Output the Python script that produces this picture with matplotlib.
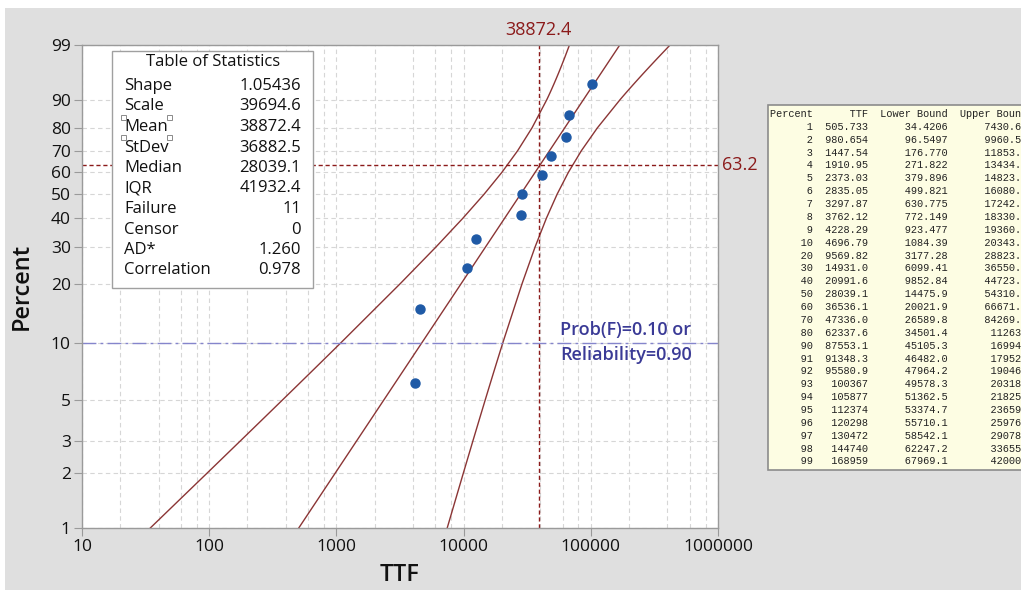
import numpy as np
import matplotlib
matplotlib.use("Agg")
import matplotlib.pyplot as plt
from matplotlib.patches import Rectangle
from matplotlib.ticker import LogLocator, NullFormatter, FixedLocator

plt.rcParams['font.family'] = ['Open Sans', 'DejaVu Sans']

# failure times and median-rank plotting positions
ttf_obs = [4150, 4570, 10570, 12450, 28100, 28800, 41300, 48900, 64200, 67000, 101600]
pct_obs = [6.1, 14.9, 23.7, 32.5, 41.2, 50.0, 58.8, 67.5, 76.3, 85.1, 93.9]

# percentile table (fit + 95% bounds)
percent = [1, 2, 3, 4, 5, 6, 7, 8, 9, 10, 20, 30, 40, 50, 60, 70, 80, 90,
           91, 92, 93, 94, 95, 96, 97, 98, 99]
ttf_fit = [505.733, 980.654, 1447.54, 1910.95, 2373.03, 2835.05, 3297.87, 3762.12, 4228.29,
           4696.79, 9569.82, 14931.0, 20991.6, 28039.1, 36536.1, 47336.0, 62337.6, 87553.1,
           91348.3, 95580.9, 100367, 105877, 112374, 120298, 130472, 144740, 168959]
lower = [34.4206, 96.5497, 176.770, 271.822, 379.896, 499.821, 630.775, 772.149, 923.477,
         1084.39, 3177.28, 6099.41, 9852.84, 14475.9, 20021.9, 26589.8, 34501.4, 45105.3,
         46482.0, 47964.2, 49578.3, 51362.5, 53374.7, 55710.1, 58542.1, 62247.2, 67969.1]
upper = [7430.61, 9960.50, 11853.7, 13434.3, 14823.2, 16080.7, 17242.2, 18330.1, 19360.0,
         20343.1, 28823.8, 36550.4, 44723.0, 54310.3, 66671.6, 84269.2, 112632, 169948,
         179521, 190469, 203185, 218252, 236590, 259766, 290783, 336556, 420000]

stat_names = ["Shape", "Scale", "Mean", "StDev", "Median", "IQR", "Failure", "Censor",
              "AD*", "Correlation"]
stat_vals = ["1.05436", "39694.6", "38872.4", "36882.5", "28039.1", "41932.4", "11", "0",
             "1.260", "0.978"]

y_ticks = [1, 2, 3, 5, 10, 20, 30, 40, 50, 60, 70, 80, 90, 99]
x_ticks = [10, 100, 1000, 10000, 100000, 1000000]
mean_ttf = 38872.4
char_life = 63.2
prob_f = 10

W, H = 1021, 590
fig = plt.figure(figsize=(W / 100, H / 100), dpi=100, facecolor='white')
fig.patches.append(Rectangle((5 / W, 0), 1, 1 - 8 / H, transform=fig.transFigure,
                             facecolor='#dfdfdf', edgecolor='none', zorder=-10))


def px(x, y):
    return x / W, 1 - y / H


def fwd(p):
    p = np.clip(np.asarray(p, dtype=float), 1e-6, 100 - 1e-6)
    return np.log(-np.log(1 - p / 100))


def inv(y):
    return 100 * (1 - np.exp(-np.exp(y)))


ax = fig.add_axes([82 / W, 1 - 528 / H, (718 - 82) / W, (528 - 45) / H])
ax.set_facecolor('white')
ax.set_xscale('log')
ax.set_yscale('function', functions=(fwd, inv))
ax.set_xlim(10, 1e6)
ax.set_ylim(1, 99)

ax.xaxis.set_major_locator(FixedLocator(x_ticks))
ax.set_xticklabels([str(v) for v in x_ticks])
ax.xaxis.set_minor_locator(LogLocator(base=10, subs=[2, 4, 6, 8]))
ax.xaxis.set_minor_formatter(NullFormatter())
ax.yaxis.set_major_locator(FixedLocator(y_ticks))
ax.set_yticklabels([str(v) for v in y_ticks])
ax.yaxis.set_minor_locator(FixedLocator([]))

gcol = '#d6d6d6'
ax.grid(True, which='major', color=gcol, linestyle=(0, (4, 3)), linewidth=0.8)
ax.grid(True, which='minor', axis='x', color=gcol, linestyle=(0, (4, 3)), linewidth=0.8)
ax.set_axisbelow(True)
ax.tick_params(which='major', length=6, color='#9a9a9a', labelsize=12.5, pad=2,
               labelcolor='#111111')
ax.tick_params(which='minor', length=0)
for s in ax.spines.values():
    s.set_color('#9a9a9a')
    s.set_linewidth(1.0)

lc = '#8b3535'
ax.plot(ttf_fit, percent, color=lc, lw=1.0)
ax.plot(lower, percent, color=lc, lw=1.0)
ax.plot(upper, percent, color=lc, lw=1.0)
ax.plot(ttf_obs, pct_obs, 'o', color='#1f5aa6', markersize=6.5, zorder=5)

red = '#8b1a1a'
ax.axvline(mean_ttf, color=red, linestyle=(0, (3, 2)), lw=1.0)
ax.axhline(char_life, color=red, linestyle=(0, (3, 2)), lw=1.0)
ax.axhline(prob_f, color='#8585cc', linestyle=(0, (10, 3, 2, 3)), lw=1.0)

fig.text(*px(538, 30), f"{mean_ttf}", color=red, fontsize=13, ha='center', va='center')
fig.text(*px(722, 165), f"{char_life}", color=red, fontsize=13, ha='left', va='center')
fig.text(*px(560, 330), "Prob(F)=0.10 or", color='#3a3a96', fontsize=13, ha='left',
         va='center', fontweight='semibold')
fig.text(*px(560, 355), "Reliability=0.90", color='#3a3a96', fontsize=13, ha='left',
         va='center', fontweight='semibold')

ax.set_xlabel("TTF", fontsize=17, color='#111111', labelpad=6, fontweight='semibold')
ax.set_ylabel("Percent", fontsize=17, color='#111111', labelpad=12, fontweight='semibold')

# table of statistics box
fig.patches.append(Rectangle(px(112, 288), 201 / W, (288 - 51) / H, transform=fig.transFigure,
                             facecolor='white', edgecolor='#a0a0a0', lw=1.0, zorder=3))
fig.text(*px(213, 62), "Table of Statistics", fontsize=12, ha='center', va='center',
         color='#111111', zorder=4)
for i, (n, v) in enumerate(zip(stat_names, stat_vals)):
    yy = 86 + i * 20.5
    fig.text(*px(124, yy), n, fontsize=12, ha='left', va='center', color='#111111', zorder=4)
    fig.text(*px(301, yy), v, fontsize=12, ha='right', va='center', color='#111111', zorder=4)
# selection handles around "Mean"
for hx, hy in [(123, 117), (169, 117), (123, 137), (169, 137)]:
    fig.patches.append(Rectangle(px(hx - 2.5, hy + 2.5), 5 / W, 5 / H,
                                 transform=fig.transFigure, facecolor='white',
                                 edgecolor='#8a8a8a', lw=0.7, zorder=5))

# percentile table panel (cut at right edge, as in the screenshot)
fig.patches.append(Rectangle(px(768, 470), 300 / W, (470 - 105) / H, transform=fig.transFigure,
                             facecolor='#fdfde3', edgecolor='#8c8c8c', lw=1.2, zorder=3))


def fmt(v):
    return f"{v:#.6g}".rstrip('.')


lines = [f"{'Percent':>7}{'TTF':>9}{'Lower Bound':>13}{'Upper Bound':>13}"]
for p, t, lo, up in zip(percent, ttf_fit, lower, upper):
    lines.append(f"{p:>7d}{fmt(t):>9}{fmt(lo):>13}{fmt(up):>13}")
for i, ln in enumerate(lines):
    fig.text(*px(770, 114 + i * 12.87), ln, family='Liberation Mono', fontsize=7.4,
             ha='left', va='center', color='#222222', zorder=4)

fig.savefig("out.png", dpi=100)
